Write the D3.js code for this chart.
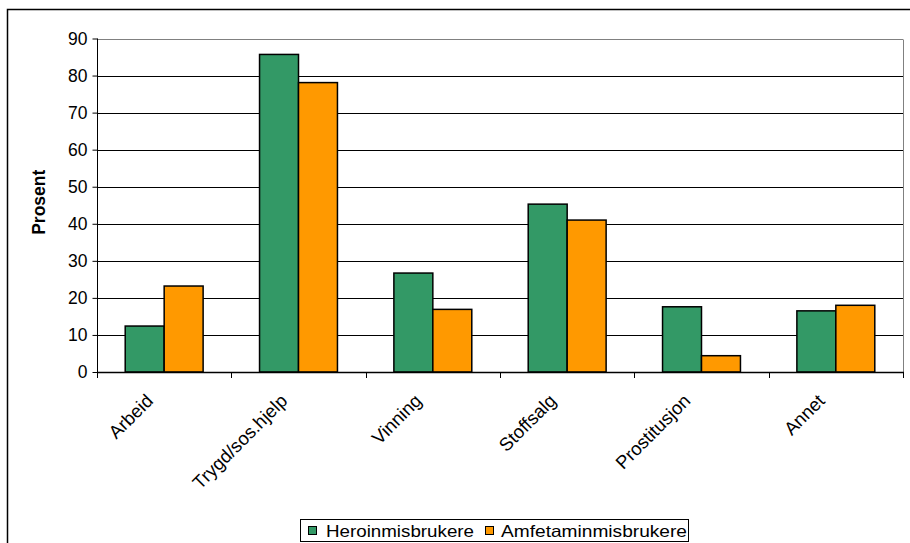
<!DOCTYPE html>
<html>
<head>
<meta charset="utf-8">
<script src="https://cdn.jsdelivr.net/npm/d3@7"></script>
<style>
  body { margin: 0; background: #fff; }
  svg { display: block; font-family: "Liberation Sans", Arial, sans-serif; }
</style>
</head>
<body>
<svg id="chart" width="910" height="543"></svg>
<script>
// Inntektskilder blant heroin- og amfetaminmisbrukere (prosent)
const categories = ["Arbeid", "Trygd/sos.hjelp", "Vinning", "Stoffsalg", "Prostitusjon", "Annet"];
const seriesNames = ["Heroinmisbrukere", "Amfetaminmisbrukere"];
const heroin = [12.4, 85.7, 26.7, 45.3, 17.6, 16.5];
const amfetamin = [23.2, 78.1, 16.9, 41.0, 4.4, 18.0];
const yTicks = [0, 10, 20, 30, 40, 50, 60, 70, 80, 90];
const colors = ["#339966", "#FF9900"];

const svg = d3.select("#chart");
const plot = { left: 97, right: 903, top: 38.5, bottom: 372 };

// Outer chart frame
svg.append("rect")
  .attr("x", 7.5).attr("y", 9.5)
  .attr("width", 960).attr("height", 600)
  .attr("fill", "none").attr("stroke", "#000").attr("stroke-width", 1.5);

const x = d3.scaleBand().domain(categories)
  .range([plot.left, plot.right]).paddingInner(0.42).paddingOuter(0.21);
const xs = d3.scaleBand().domain(seriesNames).range([0, x.bandwidth()]);
const y = d3.scaleLinear().domain([0, 90]).range([plot.bottom, plot.top]);

// Gridlines
svg.append("g").selectAll("line").data(yTicks.filter(d => d > 0))
  .join("line")
  .attr("x1", plot.left).attr("x2", plot.right)
  .attr("y1", d => Math.round(y(d)) + 0.5).attr("y2", d => Math.round(y(d)) + 0.5)
  .attr("stroke", d => d === 90 ? "#808080" : "#000").attr("stroke-width", 1);

// Right border of plot area
svg.append("line")
  .attr("x1", plot.right + 0.5).attr("x2", plot.right + 0.5)
  .attr("y1", Math.round(y(90)) + 0.5).attr("y2", plot.bottom)
  .attr("stroke", "#808080");

// Bars
const data = categories.map((c, i) => ({ c, vals: [heroin[i], amfetamin[i]] }));
svg.append("g").selectAll("g").data(data).join("g")
  .attr("transform", d => `translate(${x(d.c)},0)`)
  .selectAll("rect").data(d => d.vals.map((v, j) => ({ v, s: seriesNames[j], j })))
  .join("rect")
  .attr("x", d => xs(d.s)).attr("width", xs.bandwidth())
  .attr("y", d => y(d.v)).attr("height", d => y(0) - y(d.v))
  .attr("fill", d => colors[d.j]).attr("stroke", "#000").attr("stroke-width", 1.5);

// Y axis
const yAxis = svg.append("g")
  .attr("transform", `translate(${plot.left + 0.5},0)`)
  .call(d3.axisLeft(y).tickValues(yTicks).tickSize(5).tickPadding(5).tickFormat(d3.format("d")));
yAxis.select(".domain").attr("stroke", "#000").attr("d", `M0,${y(90)}V${plot.bottom}`);
yAxis.selectAll(".tick line").attr("stroke", "#000");
yAxis.selectAll("text").attr("font-size", 17.5).attr("fill", "#000")
  .attr("font-family", "Liberation Sans, Arial, sans-serif");

// X axis with ticks at category boundaries
const step = x.step();
const boundaries = d3.range(categories.length + 1).map(i => plot.left + i * step);
svg.append("line")
  .attr("x1", plot.left).attr("x2", plot.right + 1)
  .attr("y1", plot.bottom + 0.5).attr("y2", plot.bottom + 0.5)
  .attr("stroke", "#000").attr("stroke-width", 1.5);
svg.append("g").selectAll("line").data(boundaries).join("line")
  .attr("x1", d => Math.round(d) + 0.5).attr("x2", d => Math.round(d) + 0.5)
  .attr("y1", plot.bottom).attr("y2", plot.bottom + 6)
  .attr("stroke", "#000");

// Rotated category labels
svg.append("g").selectAll("text").data(categories).join("text")
  .attr("transform", d => `translate(${x(d) + x.bandwidth() / 2 - 10},${plot.bottom + 30}) rotate(-45)`)
  .attr("text-anchor", "end")
  .attr("font-size", 18.5)
  .attr("fill", "#000")
  .text(d => d);

// Y axis title
svg.append("text")
  .attr("transform", `translate(45,${(y(90) + y(0)) / 2 - 3}) rotate(-90)`)
  .attr("text-anchor", "middle")
  .attr("font-size", 17.5).attr("font-weight", "bold")
  .text("Prosent");

// Legend
const legend = svg.append("g");
legend.append("rect")
  .attr("x", 300.5).attr("y", 519.5).attr("width", 388).attr("height", 22)
  .attr("fill", "#fff").attr("stroke", "#000");
const items = [
  { name: seriesNames[0], sx: 308, tx: 326, len: 148 },
  { name: seriesNames[1], sx: 485, tx: 501, len: 186 }
];
items.forEach((it, i) => {
  legend.append("rect")
    .attr("x", it.sx + 0.5).attr("y", 526.5).attr("width", 8).attr("height", 8)
    .attr("fill", colors[i]).attr("stroke", "#000");
  legend.append("text")
    .attr("x", it.tx).attr("y", 536.5)
    .attr("font-size", 16.5).attr("fill", "#000")
    .attr("textLength", it.len).attr("lengthAdjust", "spacingAndGlyphs")
    .text(it.name);
});
</script>
</body>
</html>
